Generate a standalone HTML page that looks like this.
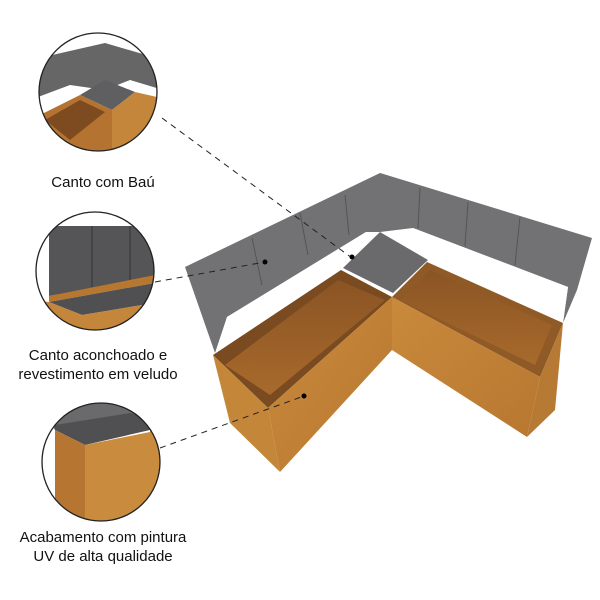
<!DOCTYPE html>
<html><head><meta charset="utf-8"><style>
html,body{margin:0;padding:0;background:#fff;}
svg{display:block}
text{font-family:"Liberation Sans",sans-serif;font-size:15px;fill:#111;text-anchor:middle}
</style></head><body>
<svg width="600" height="600" viewBox="0 0 600 600" xmlns="http://www.w3.org/2000/svg">
<defs>
<linearGradient id="w1" x1="0" y1="0" x2="1" y2="1"><stop offset="0" stop-color="#c98a3c"/><stop offset="1" stop-color="#b87730"/></linearGradient>
<linearGradient id="w2" x1="0" y1="0" x2="0" y2="1"><stop offset="0" stop-color="#8a5424"/><stop offset="1" stop-color="#a86a2c"/></linearGradient>
<clipPath id="c1"><circle cx="98" cy="92" r="59"/></clipPath>
<clipPath id="c2"><circle cx="95" cy="271" r="59"/></clipPath>
<clipPath id="c3"><circle cx="101" cy="462" r="59"/></clipPath>
</defs>

<polygon points="185,267 380,173 380,232 366,232 227,317 215,353" fill="#727274"/>
<polygon points="227,317 366,232 343,267 218,352" fill="#fff"/>
<polygon points="380,173 592,238 577,290 563,323 568,287 413,228 380,232" fill="#727274"/>
<polygon points="413,228 568,287 563,323 430,260" fill="#fff"/>
<line x1="252" y1="238" x2="262" y2="285" stroke="#555"/>
<line x1="300" y1="213" x2="308" y2="255" stroke="#555"/>
<line x1="345" y1="195" x2="349" y2="235" stroke="#555"/>
<line x1="420" y1="188" x2="418" y2="228" stroke="#555"/>
<line x1="468" y1="202" x2="465" y2="246" stroke="#555"/>
<line x1="520" y1="217" x2="515" y2="265" stroke="#555"/>
<polygon points="343,268 380,232 428,260 393,293" fill="#6a6a6c"/>
<polygon points="213,355 341,270 392,297 268,408" fill="#7a4a20"/>
<polygon points="225,365 338,280 385,300 270,395" fill="url(#w2)"/>
<polygon points="213,355 268,408 280,472 230,423" fill="#c4873a"/>
<polygon points="268,408 392,297 392,350 280,472" fill="url(#w1)"/>
<polygon points="392,297 427,262 563,323 540,377" fill="#8f5a26"/>
<polygon points="400,300 430,270 552,325 535,365" fill="url(#w2)"/>
<polygon points="392,297 540,377 527,437 392,350" fill="url(#w1)"/>
<polygon points="540,377 563,323 555,410 527,437" fill="#b67a35"/>

<g stroke="#222" stroke-width="1" stroke-dasharray="6,5" fill="none">
<line x1="162" y1="118" x2="352" y2="258"/>
<line x1="155" y1="282" x2="265" y2="262"/>
<line x1="160" y1="448" x2="304" y2="396"/>
</g>
<circle cx="265" cy="262" r="2.5" fill="#000"/>
<circle cx="352" cy="257" r="2.5" fill="#000"/>
<circle cx="304" cy="396" r="2.5" fill="#000"/>

<g clip-path="url(#c1)">
<rect x="30" y="30" width="140" height="130" fill="#fff"/>
<polygon points="30,60 105,43 170,62 170,92 130,80 105,90 70,85 30,100" fill="#666"/>
<polygon points="80,95 105,80 135,92 112,110" fill="#5f5f61"/>
<polygon points="30,120 80,95 112,110 112,160 30,160" fill="#b47330"/>
<polygon points="112,110 135,92 170,100 170,160 112,160" fill="#c4863a"/>
<polygon points="45,120 80,100 105,112 70,140" fill="#7d4b1f"/>
</g>
<circle cx="98" cy="92" r="59" fill="none" stroke="#222" stroke-width="1.3"/>
<text x="103" y="187">Canto com Baú</text>

<g clip-path="url(#c2)">
<rect x="30" y="205" width="140" height="135" fill="#fff"/>
<polygon points="49,226 160,226 160,277 49,296" fill="#555557"/>
<line x1="92" y1="226" x2="92" y2="287" stroke="#333"/>
<line x1="130" y1="226" x2="130" y2="280" stroke="#333"/>
<polygon points="49,296 160,274 160,282 49,302" fill="#b7772f"/>
<polygon points="49,302 160,282 160,302 82,315 49,302" fill="#505052"/>
<polygon points="30,300 49,302 82,315 160,302 160,340 30,340" fill="#c4863a"/>
</g>
<circle cx="95" cy="271" r="59" fill="none" stroke="#222" stroke-width="1.3"/>
<text x="98" y="360">Canto aconchoado e</text>
<text x="98" y="379">revestimento em veludo</text>

<g clip-path="url(#c3)">
<rect x="35" y="395" width="140" height="130" fill="#fff"/>
<polygon points="35,400 175,400 175,415 55,430" fill="#6a6a6c"/>
<polygon points="55,425 130,413 160,420 150,430 85,445 55,430" fill="#505052"/>
<polygon points="150,420 160,420 165,430 150,432" fill="#b7772f"/>
<polygon points="55,430 85,445 85,525 55,525" fill="#b67632"/>
<polygon points="85,445 150,432 175,430 175,525 85,525" fill="#c98b3e"/>
</g>
<circle cx="101" cy="462" r="59" fill="none" stroke="#222" stroke-width="1.3"/>
<text x="103" y="542">Acabamento com pintura</text>
<text x="103" y="561">UV de alta qualidade</text>
</svg>
</body></html>
